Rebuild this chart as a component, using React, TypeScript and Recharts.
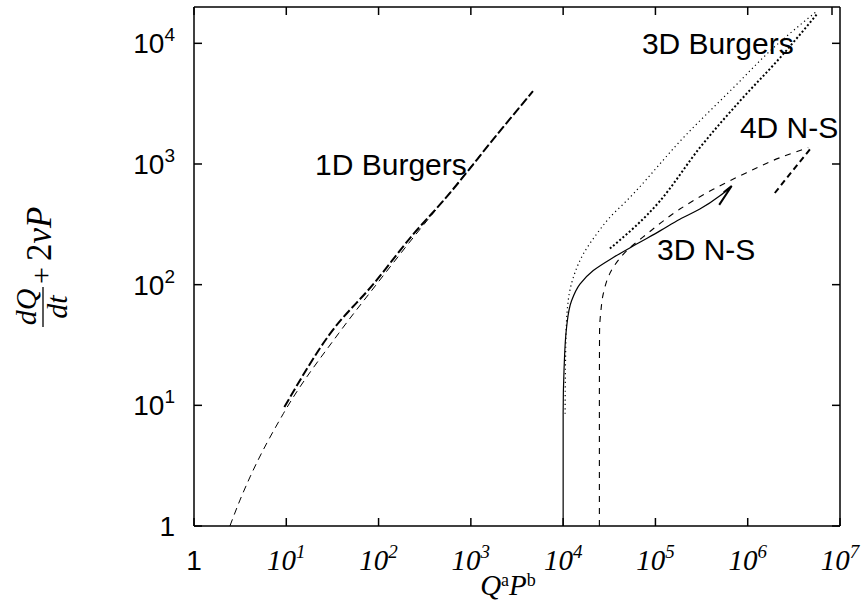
import React from 'react';
import { LineChart, Line, XAxis, YAxis, ReferenceDot } from 'recharts';

// x tick values (powers of ten) and y tick values
const X_TICKS = [1, 10, 100, 1000, 10000, 100000, 1000000, 10000000];
const Y_TICKS = [1, 10, 100, 1000, 10000];

// 1D Burgers, thin dashed
const oneDThin = [
  { x: 2.45, y: 1 },
  { x: 3.15, y: 1.64 },
  { x: 4.05, y: 2.55 },
  { x: 9.29, y: 8.53 },
  { x: 36.6, y: 39.1 },
  { x: 95.3, y: 101 },
  { x: 238, y: 246 },
  { x: 501, y: 494 },
  { x: 2065, y: 1875 },
  { x: 4500, y: 3850 },
];

// 1D Burgers, thick dashed
const oneDThick = [
  { x: 9.53, y: 9.68 },
  { x: 29.7, y: 39.1 },
  { x: 87.7, y: 101 },
  { x: 238, y: 262 },
  { x: 501, y: 494 },
  { x: 2065, y: 1875 },
  { x: 4710, y: 4009 },
];

// 3D N-S, thin solid
const threeDNSThin = [
  { x: 10000, y: 1 },
  { x: 10000, y: 8.5 },
  { x: 10230, y: 20 },
  { x: 10900, y: 44.4 },
  { x: 12360, y: 73.8 },
  { x: 15200, y: 101 },
  { x: 21200, y: 131 },
  { x: 34900, y: 168 },
  { x: 62500, y: 217 },
  { x: 112000, y: 279 },
  { x: 184000, y: 349 },
  { x: 303000, y: 423 },
  { x: 500000, y: 545 },
  { x: 670000, y: 658 },
];

// 3D N-S, thick solid hook
const threeDNSThick = [
  { x: 550000, y: 582 },
  { x: 670000, y: 658 },
  { x: 491000, y: 458 },
];

// 4D N-S, thin dashed
const fourDThin = [
  { x: 24700, y: 1 },
  { x: 24700, y: 10 },
  { x: 24800, y: 39.8 },
  { x: 25700, y: 61.7 },
  { x: 27200, y: 83.8 },
  { x: 34900, y: 139 },
  { x: 48800, y: 191 },
  { x: 80200, y: 262 },
  { x: 184000, y: 423 },
  { x: 423000, y: 617 },
  { x: 971000, y: 847 },
  { x: 2230000, y: 1127 },
  { x: 4530000, y: 1365 },
];

// 4D N-S, thick dashed
const fourDThick = [
  { x: 4720000, y: 1322 },
  { x: 3100000, y: 890 },
  { x: 1920000, y: 562 },
];

// 3D Burgers, thin dotted
const threeDBThin = [
  { x: 10500, y: 8.5 },
  { x: 10700, y: 34.4 },
  { x: 11350, y: 73.8 },
  { x: 12900, y: 115 },
  { x: 16500, y: 179 },
  { x: 23000, y: 262 },
  { x: 32100, y: 361 },
  { x: 48500, y: 494 },
  { x: 217000, y: 1758 },
  { x: 697000, y: 4276 },
  { x: 1890000, y: 9140 },
  { x: 5570000, y: 18370 },
];

// 3D Burgers, thick dotted
const threeDBThick = [
  { x: 32100, y: 199 },
  { x: 112000, y: 494 },
  { x: 303000, y: 1365 },
  { x: 822000, y: 3319 },
  { x: 2230000, y: 7568 },
  { x: 5570000, y: 17260 },
];

// curve labels, anchored at their left baseline
const LABELS = [
  { text: '1D Burgers', x: 20.5, y: 811 },
  { text: '3D Burgers', x: 71400, y: 8110 },
  { text: '4D N-S', x: 823000, y: 1640 },
  { text: '3D N-S', x: 104000, y: 161 },
];

const SANS = 'Liberation Sans, Arial, Helvetica, sans-serif';
const SERIF = 'Liberation Serif, Times New Roman, serif';
const TICK = 8;

const exp = (v: number) => Math.round(Math.log10(v));

const BottomTick = ({ x, y, payload }: any) => {
  const v = payload.value;
  return (
    <g>
      <line x1={x} y1={y} x2={x} y2={y - TICK} stroke="#000" strokeWidth={1.5} />
      {v === 1 ? (
        <text x={x} y={y + 44} textAnchor="middle" fontFamily={SANS} fontSize={28}>1</text>
      ) : (
        <text x={x} y={y + 44} textAnchor="middle" fontFamily={SERIF} fontStyle="italic" fontSize={29}>
          10<tspan dy={-12} fontSize={19}>{exp(v)}</tspan>
        </text>
      )}
    </g>
  );
};

const TopTick = ({ x, y }: any) => (
  <line x1={x} y1={y} x2={x} y2={y + TICK} stroke="#000" strokeWidth={1.5} />
);

const LeftTick = ({ x, y, payload }: any) => {
  const v = payload.value;
  return (
    <g>
      <line x1={x} y1={y} x2={x + TICK} y2={y} stroke="#000" strokeWidth={1.5} />
      {v === 1 ? (
        <text x={x - 19} y={y + 10} textAnchor="end" fontFamily={SANS} fontSize={28}>1</text>
      ) : (
        <text x={x - 19} y={y + 10} textAnchor="end" fontFamily={SANS} fontSize={28}>
          10<tspan dy={-12} fontSize={19}>{exp(v)}</tspan>
        </text>
      )}
    </g>
  );
};

const RightTick = ({ x, y }: any) => (
  <line x1={x} y1={y} x2={x - TICK} y2={y} stroke="#000" strokeWidth={1.5} />
);

const curveLabel = (text: string) => (props: any) => {
  const vb = props.viewBox || {};
  return (
    <text x={vb.x} y={vb.y} fontFamily={SANS} fontSize={30} fill="#000">{text}</text>
  );
};

export default function App() {
  return (
    <div style={{ position: 'absolute', left: 0, top: 0, width: 864, height: 605, background: '#fff' }}>
      <LineChart width={864} height={605} margin={{ top: 6, right: 23, bottom: 78, left: 193 }}>
        <XAxis
          xAxisId="top"
          orientation="top"
          type="number"
          dataKey="x"
          scale="log"
          domain={[1, 10000000]}
          allowDataOverflow
          ticks={X_TICKS}
          height={1}
          tickSize={0}
          tickMargin={0}
          tick={<TopTick />}
          axisLine={{ stroke: '#000', strokeWidth: 1.5 }}
        />
        <XAxis
          type="number"
          dataKey="x"
          scale="log"
          domain={[1, 10000000]}
          allowDataOverflow
          ticks={X_TICKS}
          height={1}
          tickSize={0}
          tickMargin={0}
          tick={<BottomTick />}
          axisLine={{ stroke: '#000', strokeWidth: 1.5 }}
          interval={0}
        />
        <YAxis
          type="number"
          dataKey="y"
          scale="log"
          domain={[1, 20000]}
          allowDataOverflow
          ticks={Y_TICKS}
          width={1}
          tickSize={0}
          tickMargin={0}
          tick={<LeftTick />}
          axisLine={{ stroke: '#000', strokeWidth: 1.5 }}
          interval={0}
        />
        <YAxis
          yAxisId="right"
          orientation="right"
          type="number"
          scale="log"
          domain={[1, 20000]}
          allowDataOverflow
          ticks={Y_TICKS}
          width={1}
          tickSize={0}
          tickMargin={0}
          tick={<RightTick />}
          axisLine={{ stroke: '#000', strokeWidth: 1.5 }}
          interval={0}
        />
        <Line data={oneDThin} dataKey="y" type="monotone" stroke="#000" strokeWidth={1} strokeDasharray="7 5" dot={false} isAnimationActive={false} />
        <Line data={oneDThick} dataKey="y" type="monotone" stroke="#000" strokeWidth={2} strokeDasharray="9 3" dot={false} isAnimationActive={false} />
        <Line data={threeDNSThin} dataKey="y" type="monotoneY" stroke="#000" strokeWidth={1.2} dot={false} isAnimationActive={false} />
        <Line data={threeDNSThick} dataKey="y" type="linear" stroke="#000" strokeWidth={2} dot={false} isAnimationActive={false} />
        <Line data={fourDThin} dataKey="y" type="monotoneY" stroke="#000" strokeWidth={1.1} strokeDasharray="6 6" dot={false} isAnimationActive={false} />
        <Line data={fourDThick} dataKey="y" type="linear" stroke="#000" strokeWidth={2} strokeDasharray="6 4" dot={false} isAnimationActive={false} />
        <Line data={threeDBThin} dataKey="y" type="monotoneY" stroke="#000" strokeWidth={1.2} strokeDasharray="1.2 3.2" dot={false} isAnimationActive={false} />
        <Line data={threeDBThick} dataKey="y" type="monotone" stroke="#000" strokeWidth={2} strokeDasharray="2 2.2" dot={false} isAnimationActive={false} />
        {LABELS.map((l) => (
          <ReferenceDot
            key={l.text}
            x={l.x}
            y={l.y}
            r={0}
            fill="none"
            stroke="none"
            label={{ content: curveLabel(l.text) }}
          />
        ))}
      </LineChart>
      <svg width={864} height={605} style={{ position: 'absolute', left: 0, top: 0, pointerEvents: 'none' }}>
        <g transform="translate(43, 327) rotate(-90)" fontFamily={SERIF} fontSize={30}>
          <text x={20} y={-7} textAnchor="middle" fontStyle="italic">dQ</text>
          <line x1={0} y1={0} x2={40} y2={0} stroke="#000" strokeWidth={1.3} />
          <text x={20} y={24} textAnchor="middle" fontStyle="italic">dt</text>
          <text x={43} y={8}>
            +<tspan dx={6} fontSize={35}>2</tspan>
            <tspan fontStyle="italic" fontSize={35}>νP</tspan>
          </text>
        </g>
        <text x={508} y={595} textAnchor="middle" fontFamily={SERIF} fontSize={29}>
          <tspan fontStyle="italic">Q</tspan>
          <tspan dy={-9} fontSize={18}>a</tspan>
          <tspan dy={9} fontStyle="italic">P</tspan>
          <tspan dy={-9} fontSize={18}>b</tspan>
        </text>
      </svg>
    </div>
  );
}
